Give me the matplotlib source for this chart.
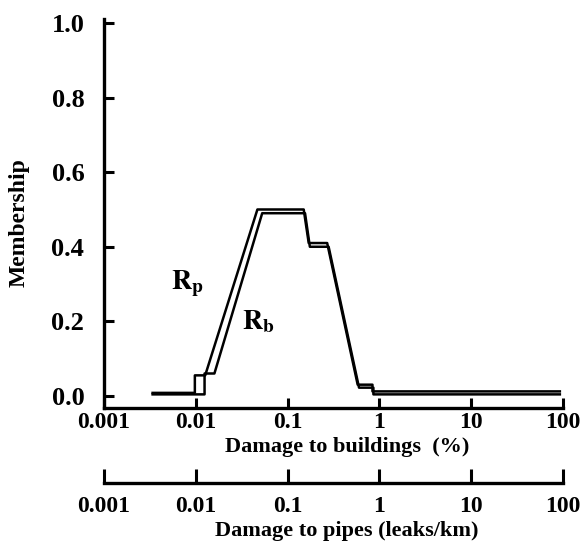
import matplotlib
matplotlib.use('Agg')
import matplotlib.pyplot as plt
from matplotlib.ticker import FixedLocator, NullLocator

plt.rcParams['font.family'] = ['Liberation Serif', 'DejaVu Serif']
plt.rcParams['font.weight'] = 'bold'
plt.rcParams['mathtext.fontset'] = 'stix'

# membership curves
rp_x = [0.0034, 0.0098, 0.0098, 0.0127, 0.047, 0.15, 0.17, 0.27, 0.58, 0.84, 0.84, 92]
rp_y = [0.008, 0.008, 0.055, 0.055, 0.5, 0.5, 0.41, 0.41, 0.03, 0.03, 0.012, 0.012]
rb_x = [0.0034, 0.0125, 0.0125, 0.016, 0.053, 0.155, 0.175, 0.28, 0.6, 0.86, 0.86, 92]
rb_y = [0.004, 0.004, 0.06, 0.06, 0.49, 0.49, 0.40, 0.40, 0.022, 0.022, 0.004, 0.004]

x_ticks = [0.001, 0.01, 0.1, 1, 10, 100]
x_labels = ['0.001', '0.01', '0.1', '1', '10', '100']
y_ticks = [0.0, 0.2, 0.4, 0.6, 0.8, 1.0]

fig = plt.figure(figsize=(5.83, 5.43), dpi=100)
ax = fig.add_axes([0.178, 0.249, 0.788, 0.716])

ax.plot(rp_x, rp_y, color='black', linewidth=1.8)
ax.plot(rb_x, rb_y, color='black', linewidth=1.8)

ax.set_xscale('log')
ax.set_xlim(0.001, 100)
ax.set_ylim(-0.032, 1.011)

ax.xaxis.set_major_locator(FixedLocator(x_ticks))
ax.xaxis.set_minor_locator(NullLocator())
ax.set_xticklabels(x_labels)
ax.set_yticks(y_ticks)
ax.set_yticklabels(['%.1f' % v for v in y_ticks])

for s in ['top', 'right']:
    ax.spines[s].set_visible(False)
for s in ['left', 'bottom']:
    ax.spines[s].set_linewidth(2.4)
ax.tick_params(direction='in', length=7, width=2.2)
ax.tick_params(axis='x', labelsize=17, pad=3)
ax.tick_params(axis='y', labelsize=19, pad=14)

ax.text(0.0082, 0.30, r'$\mathbf{R_p}$', fontsize=20, ha='center', va='center')
ax.text(0.048, 0.20, r'$\mathbf{R_b}$', fontsize=20, ha='center', va='center')

# second scale for pipes
ax2 = fig.add_axes([0.178, 0.11, 0.788, 0.0005])
ax2.set_xscale('log')
ax2.set_xlim(0.001, 100)
ax2.xaxis.set_major_locator(FixedLocator(x_ticks))
ax2.xaxis.set_minor_locator(NullLocator())
ax2.set_xticklabels(x_labels)
ax2.set_yticks([])
ax2.patch.set_visible(False)
for s in ['top', 'right', 'left']:
    ax2.spines[s].set_visible(False)
ax2.spines['bottom'].set_linewidth(2.4)
ax2.tick_params(direction='in', length=10, width=2.2, labelsize=17, pad=9)

fig.text(0.595, 0.177, 'Damage to buildings  (%)', fontsize=16, ha='center', va='center')
fig.text(0.595, 0.022, 'Damage to pipes (leaks/km)', fontsize=16, ha='center', va='center')
fig.text(0.032, 0.59, 'Membership', fontsize=17, rotation=90, ha='center', va='center')

fig.savefig('out.png', dpi=100)
